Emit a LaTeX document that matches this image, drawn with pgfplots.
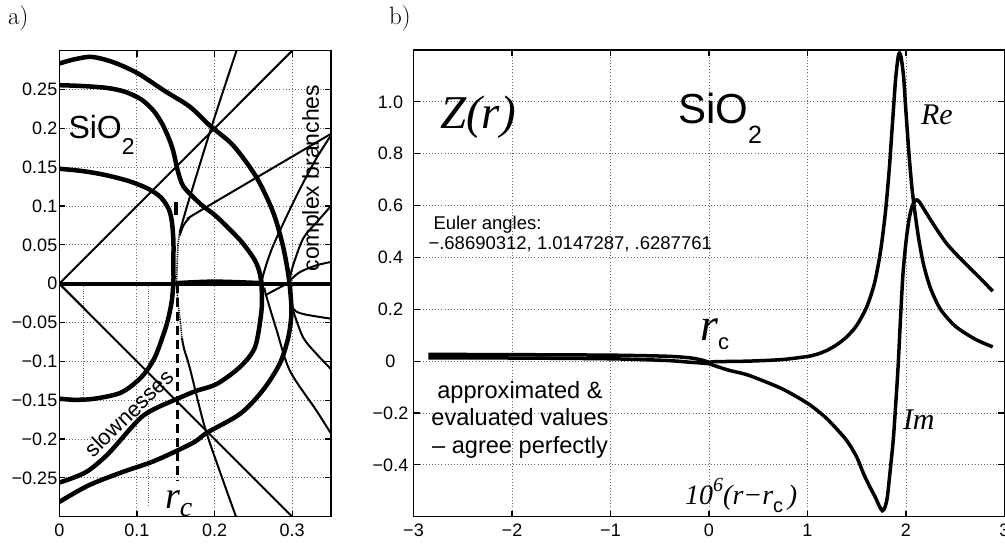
\documentclass[border=0pt]{standalone}
\usepackage{fontspec}
\newfontfamily\arial{Liberation Sans}
\newfontfamily\timesf{Liberation Serif}
\usepackage{pgfplots}
\pgfplotsset{compat=1.18}
\pgfplotsset{
  mstyle/.style={
    scale only axis,
    axis line style={line width=1.5pt},
    tick style={black, line width=1.2pt},
    tick align=inside,
    major tick length=6pt,
    grid=major,
    grid style={line width=0.9pt, black!60, dash pattern=on 0.9pt off 2.2pt},
    tick label style={font=\arial\fontsize{18}{18}\selectfont},
    xticklabel style={yshift=-4pt},
  },
  thickc/.style={black, line width=4.5pt, line join=round, smooth, tension=0.5},
  thinc/.style={black, line width=2pt, line join=round, smooth, tension=0.5},
  dotc/.style={black, line width=1.6pt, dash pattern=on 1.2pt off 1pt, smooth},
}
\begin{document}
\begin{tikzpicture}
\path[use as bounding box] (0pt,0pt) rectangle (1005pt,544pt);
% ---------------- panel a ----------------
\begin{axis}[mstyle, at={(59.3pt,27.3pt)}, anchor=south west, width=271.7pt, height=466pt,
  xmin=0, xmax=0.35, ymin=-0.3, ymax=0.3,
  xtick={0,0.1,0.2,0.3}, xticklabels={0,0.1,0.2,0.3},
  ytick={-0.25,-0.2,-0.15,-0.1,-0.05,0,0.05,0.1,0.15,0.2,0.25},
  yticklabels={−0.25,−0.2,−0.15,−0.1,−0.05,0,0.05,0.1,0.15,0.2,0.25},
  yticklabel style={xshift=1.5pt}]
% faint dotted branches
\addplot[black!60, line width=0.8pt, dash pattern=on 0.8pt off 1.6pt] coordinates {(0.031,0) (0.031,-0.148)};
\addplot[black!60, line width=0.8pt, dash pattern=on 0.8pt off 1.6pt] coordinates {(0.1145,0) (0.1145,-0.285)};
% thin lines
\addplot[thinc] coordinates {(0,0) (0.3,0.3)};
\addplot[thinc] coordinates {(0,0) (0.3,-0.3)};
\addplot[thinc] coordinates {(0.155,0.066) (0.16,0.084) (0.168,0.111) (0.198,0.208) (0.2285,0.3006)};
\addplot[dotc] coordinates {(0.151,0.0) (0.152,0.03) (0.153,0.05) (0.155,0.066)};
\addplot[dotc] coordinates {(0.151,0.0) (0.153,-0.025) (0.156,-0.05) (0.158,-0.07)};
\addplot[thinc] coordinates {(0.158,-0.07) (0.161,-0.085) (0.168,-0.108) (0.1875,-0.185) (0.211,-0.2535) (0.228,-0.301)};
\addplot[thinc] coordinates {(0.155,0.062) (0.16,0.075) (0.167,0.084) (0.18,0.093) (0.35,0.193)};
\addplot[thinc] coordinates {(0.262,0.0) (0.2625,0.0107) (0.2755,0.049) (0.306,0.114) (0.331,0.161) (0.35,0.191)};
\addplot[thinc] coordinates {(0.297,0.005) (0.3,0.02) (0.314,0.058) (0.3315,0.079) (0.35,0.1)};
\addplot[thinc] coordinates {(0.297,0.004) (0.31,0.015) (0.331,0.0236) (0.35,0.028)};
\addplot[thinc] coordinates {(0.297,-0.012) (0.301,-0.032) (0.314,-0.039) (0.35,-0.045)};
\addplot[thinc] coordinates {(0.299,-0.025) (0.301,-0.034) (0.314,-0.069) (0.331,-0.09) (0.35,-0.11)};
\addplot[thinc] coordinates {(0.264,-0.005) (0.267,-0.017) (0.28,-0.06) (0.297,-0.112) (0.331,-0.163) (0.35,-0.193)};
\addplot[thinc] coordinates {(0.265,-0.015) (0.28,-0.007) (0.297,0.002)};
% thick curves
\addplot[black, line width=4pt] coordinates {(0,0) (0.35,0)};
\addplot[black, line width=4pt, smooth] coordinates {(0.15,0.001) (0.2,0.003) (0.262,0.001)};
\addplot[black, line width=4pt] coordinates {(0.1505,0.088) (0.1505,0.105)};
\addplot[black, line width=3pt, dash pattern=on 9pt off 5pt] coordinates {(0.152,0) (0.152,-0.254)};
\addplot[thickc] coordinates {(0,0.2835) (0.02,0.289) (0.042,0.292) (0.07,0.285) (0.1016,0.2706) (0.136,0.248) (0.168,0.228) (0.194,0.2035) (0.224,0.178) (0.254,0.137) (0.2755,0.092) (0.288,0.049) (0.295,0.012) (0.298,-0.015) (0.299,-0.039) (0.295,-0.069) (0.284,-0.103) (0.262,-0.1375) (0.233,-0.1675) (0.19,-0.192) (0.172,-0.205) (0.123,-0.228) (0.08,-0.243) (0.037,-0.26) (0,-0.281)};
\addplot[thickc] coordinates {(0,0.2556) (0.03,0.2545) (0.062,0.252) (0.085,0.247) (0.106,0.237) (0.122,0.222) (0.133,0.205) (0.142,0.185) (0.147,0.17) (0.151,0.152) (0.155,0.137) (0.16,0.125) (0.172,0.112) (0.185,0.1) (0.203,0.086) (0.233,0.056) (0.252,0.03) (0.259,0.01) (0.261,-0.015) (0.26,-0.039) (0.252,-0.082) (0.233,-0.107) (0.203,-0.129) (0.175,-0.1385) (0.149,-0.1495) (0.125,-0.16) (0.108,-0.17) (0.093,-0.185) (0.063,-0.219) (0.037,-0.241) (0.015,-0.251) (0,-0.256)};
\addplot[thickc] coordinates {(0,0.148) (0.03,0.145) (0.059,0.14) (0.09,0.132) (0.115,0.122) (0.131,0.111) (0.141,0.096) (0.145,0.08) (0.147,0.055) (0.147,0.025) (0.147,0.002) (0.145,-0.0215) (0.141,-0.042) (0.136,-0.06) (0.123,-0.095) (0.106,-0.12) (0.08,-0.14) (0.046,-0.148) (0.02,-0.1495) (0,-0.148)};
\end{axis}
% ---------------- panel b ----------------
\begin{axis}[mstyle, at={(413.5pt,27.3pt)}, anchor=south west, width=591pt, height=466.7pt,
  xmin=-3, xmax=3, ymin=-0.6, ymax=1.2,
  xtick={-3,-2,-1,0,1,2,3}, xticklabels={−3,−2,−1,0,1,2,3},
  ytick={-0.4,-0.2,0,0.2,0.4,0.6,0.8,1.0},
  yticklabels={−0.4,−0.2,0,0.2,0.4,0.6,0.8,1.0},
  yticklabel style={anchor=center, xshift=-23pt}]
\addplot[black, line width=3.5pt, smooth, tension=0.45] coordinates {(-2.85,0.026) (-2.0,0.025) (-1.0,0.023) (-0.44,0.019) (-0.2,0.013) (-0.07,0.004) (0,-0.004) (0.07,-0.002) (0.4,0.0) (0.74,0.006) (1.0,0.018) (1.1,0.027) (1.2,0.042) (1.3,0.064) (1.4,0.094) (1.5,0.138) (1.6,0.208) (1.68,0.3) (1.74,0.42) (1.79,0.57) (1.83,0.74) (1.865,0.93) (1.895,1.09) (1.92,1.172) (1.935,1.188) (1.95,1.172) (1.975,1.1) (2.0,0.96) (2.03,0.8) (2.06,0.67) (2.09,0.575) (2.13,0.47) (2.18,0.37) (2.25,0.28) (2.35,0.2) (2.5,0.135) (2.7,0.085) (2.88,0.055)};
\addplot[black, line width=3.5pt, smooth, tension=0.45] coordinates {(-2.85,0.013) (-2.0,0.012) (-1.0,0.009) (-0.44,0.0026) (-0.2,-0.004) (0,-0.01) (0.068,-0.019) (0.2,-0.035) (0.406,-0.055) (0.744,-0.107) (1.01,-0.165) (1.18,-0.216) (1.28,-0.255) (1.40,-0.307) (1.5,-0.37) (1.57,-0.435) (1.64,-0.49) (1.69,-0.526) (1.73,-0.56) (1.76,-0.577) (1.785,-0.565) (1.81,-0.526) (1.836,-0.435) (1.87,-0.307) (1.895,-0.17) (1.92,-0.02) (1.945,0.17) (1.97,0.34) (2.0,0.46) (2.03,0.545) (2.06,0.595) (2.09,0.618) (2.11,0.622) (2.14,0.612) (2.2,0.575) (2.3,0.515) (2.42,0.45) (2.58,0.385) (2.74,0.325) (2.88,0.27)};
\end{axis}
% ---------------- texts ----------------
\node[anchor=base west, inner sep=0pt] at (8pt,519pt) {\fontsize{25}{25}\selectfont a)};
\node[anchor=base west, inner sep=0pt] at (389pt,519pt) {\fontsize{25}{25}\selectfont b)};
\node[anchor=base west, inner sep=0pt] at (68.3pt,405.7pt) {\arial\fontsize{32}{32}\selectfont SiO\raisebox{-16.7pt}{\fontsize{23}{23}\selectfont 2}};
\node[rotate=90, inner sep=0pt] at (313pt,366pt) {\arial\fontsize{23}{23}\selectfont complex branches};
\node[rotate=44, inner sep=0pt] at (129pt,131pt) {\arial\fontsize{22}{22}\selectfont slownesses};
\node[anchor=base west, inner sep=0pt] at (165pt,35.7pt) {\timesf\itshape\fontsize{38}{38}\selectfont r\raisebox{-8.5pt}{\fontsize{28}{28}\selectfont c}};
\node[anchor=base west, inner sep=0pt] at (440pt,415.7pt) {\timesf\itshape\fontsize{47}{47}\selectfont Z(r)};
\node[anchor=base west, inner sep=0pt] at (678pt,420.7pt) {\arial\fontsize{42}{42}\selectfont SiO\raisebox{-20pt}{\fontsize{25}{25}\selectfont 2}};
\node[anchor=base west, inner sep=0pt] at (433.3pt,314.7pt) {\arial\fontsize{18.5}{18.5}\selectfont Euler angles:};
\node[anchor=base west, inner sep=0pt] at (428.3pt,294pt) {\arial\fontsize{18.5}{18.5}\selectfont −.68690312, 1.0147287, .6287761};
\node[anchor=base, inner sep=0pt] at (520pt,145.7pt) {\arial\fontsize{23.6}{23.6}\selectfont approximated \&};
\node[anchor=base, inner sep=0pt] at (520pt,118pt) {\arial\fontsize{23.6}{23.6}\selectfont evaluated values};
\node[anchor=base, inner sep=0pt] at (520pt,90.7pt) {\arial\fontsize{23.6}{23.6}\selectfont – agree perfectly};
\node[anchor=base west, inner sep=0pt] at (700pt,203.3pt) {\timesf\itshape\fontsize{46}{46}\selectfont r\raisebox{-9.3pt}{\arial\upshape\fontsize{22}{22}\selectfont c}};
\node[anchor=base west, inner sep=0pt] at (920.8pt,419.4pt) {\timesf\itshape\fontsize{30}{30}\selectfont Re};
\node[anchor=base west, inner sep=0pt] at (902.8pt,114pt) {\timesf\itshape\fontsize{30}{30}\selectfont Im};
\node[anchor=base west, inner sep=0pt] at (685pt,39pt) {\timesf\itshape\fontsize{28}{28}\selectfont 10\raisebox{13pt}{\fontsize{20}{20}\selectfont 6}(r−r\raisebox{-8pt}{\arial\upshape\fontsize{20}{20}\selectfont c}\,)};
\end{tikzpicture}
\end{document}
